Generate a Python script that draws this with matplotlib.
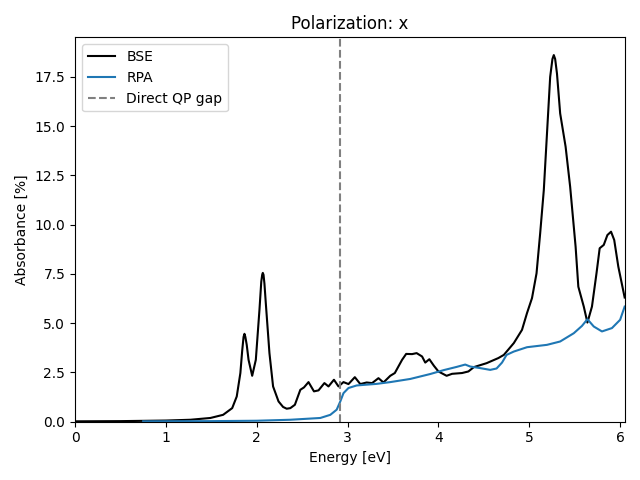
import matplotlib
matplotlib.use("Agg")
import matplotlib.pyplot as plt

# energies [eV] and absorbance [%]
bse_energy = [0.0, 0.5, 1.0, 1.27, 1.49, 1.63, 1.73, 1.78, 1.82, 1.84, 1.855, 1.865, 1.875,
              1.89, 1.91, 1.95, 1.99, 2.03, 2.05, 2.06, 2.067, 2.075, 2.085, 2.10, 2.14,
              2.18, 2.24, 2.29, 2.33, 2.37, 2.42, 2.48, 2.52, 2.57, 2.63, 2.68, 2.745,
              2.79, 2.85, 2.90, 2.955, 3.01, 3.08, 3.14, 3.21, 3.27, 3.34, 3.395, 3.47,
              3.52, 3.60, 3.645, 3.71, 3.76, 3.82, 3.855, 3.90, 3.95, 4.00, 4.09, 4.15,
              4.26, 4.33, 4.39, 4.53, 4.66, 4.72, 4.83, 4.92, 4.975, 5.03, 5.08, 5.12,
              5.16, 5.195, 5.23, 5.255, 5.27, 5.285, 5.305, 5.34, 5.40, 5.45, 5.51, 5.54,
              5.60, 5.64, 5.69, 5.74, 5.775, 5.82, 5.86, 5.90, 5.935, 5.98, 6.05]
bse_abs = [0.02, 0.03, 0.06, 0.10, 0.19, 0.35, 0.69, 1.28, 2.47, 3.6, 4.3, 4.46, 4.3,
           3.9, 3.14, 2.33, 3.14, 5.67, 7.1, 7.45, 7.55, 7.45, 7.0, 6.01, 3.48,
           1.79, 1.03, 0.75, 0.66, 0.69, 0.86, 1.62, 1.74, 2.01, 1.54, 1.59, 1.96,
           1.79, 2.13, 1.79, 2.01, 1.91, 2.26, 1.91, 1.99, 1.96, 2.21, 1.99, 2.33,
           2.47, 3.14, 3.44, 3.43, 3.48, 3.31, 3.00, 3.17, 2.84, 2.55, 2.33, 2.43,
           2.47, 2.55, 2.77, 2.97, 3.23, 3.39, 3.99, 4.66, 5.51, 6.27, 7.53, 9.56,
           11.75, 14.62, 17.49, 18.4, 18.6, 18.4, 17.66, 15.64, 13.95, 11.92, 8.88, 6.85,
           5.84, 5.03, 5.84, 7.53, 8.80, 8.97, 9.47, 9.64, 9.22, 7.87, 6.3]

rpa_energy = [0.75, 1.5, 2.0, 2.37, 2.70, 2.81, 2.88, 2.92, 2.955, 3.01, 3.10, 3.32, 3.47,
              3.69, 3.91, 4.06, 4.20, 4.295, 4.35, 4.46, 4.57, 4.64, 4.70, 4.75, 4.83,
              4.975, 5.195, 5.34, 5.49, 5.58, 5.64, 5.71, 5.80, 5.91, 6.00, 6.05]
rpa_abs = [0.02, 0.03, 0.05, 0.10, 0.19, 0.35, 0.61, 1.03, 1.45, 1.71, 1.84, 1.92, 2.01,
           2.17, 2.42, 2.62, 2.78, 2.90, 2.80, 2.72, 2.63, 2.70, 3.00, 3.39, 3.56,
           3.78, 3.90, 4.07, 4.49, 4.86, 5.20, 4.83, 4.58, 4.75, 5.17, 5.84]

qp_gap = 2.92


def plot_absorbance():
    fig, ax = plt.subplots(figsize=(6.4, 4.8), dpi=100)
    ax.plot(bse_energy, bse_abs, color="black", label="BSE")
    ax.plot(rpa_energy, rpa_abs, color="tab:blue", label="RPA")
    ax.axvline(qp_gap, color="gray", linestyle="--", label="Direct QP gap")
    ax.set_xlim(0, 6.05)
    ax.set_ylim(0, 19.5)
    ax.set_xlabel("Energy [eV]")
    ax.set_ylabel("Absorbance [%]")
    ax.set_title("Polarization: x")
    ax.legend(loc="upper left")
    fig.tight_layout()
    fig.savefig("out.png")


if __name__ == '__main__':
    plot_absorbance()
